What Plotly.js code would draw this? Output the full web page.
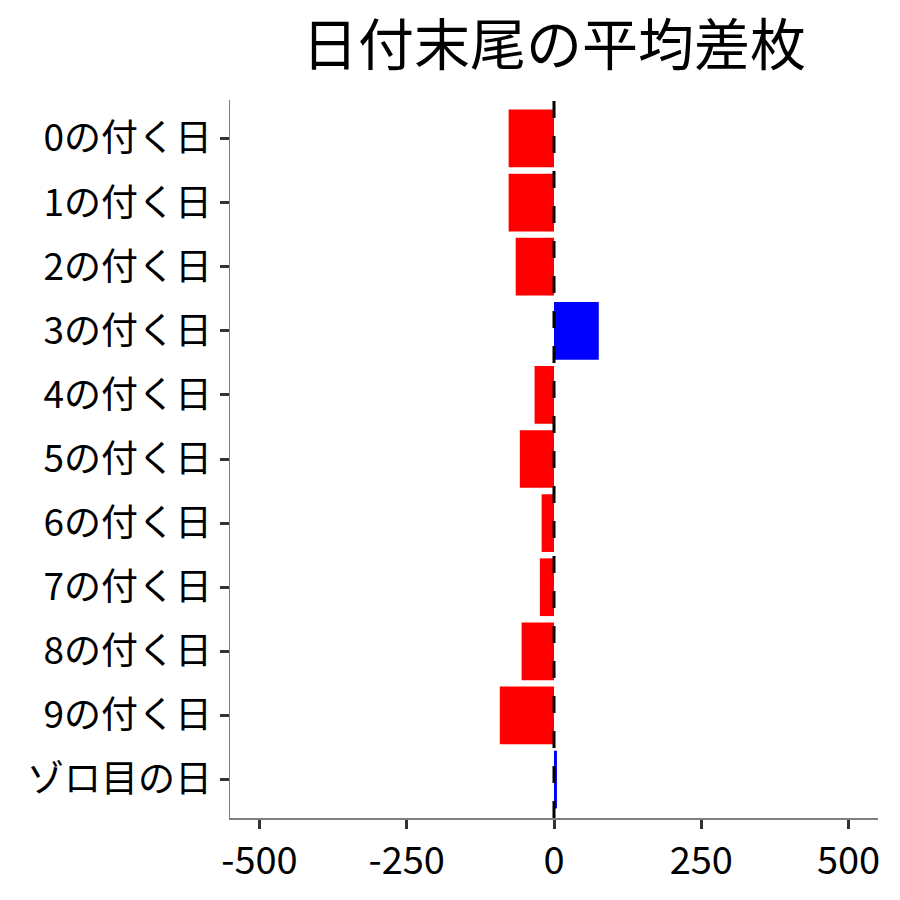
<!DOCTYPE html>
<html>
<head>
<meta charset="utf-8">
<script src="https://cdn.plot.ly/plotly-3.0.1.min.js"></script>
<style>
  html, body { margin: 0; padding: 0; background: #fff; }
  #myDiv { width: 900px; height: 900px; }
</style>
</head>
<body>
<div id="myDiv"></div>
<script>
// ======== DATA ========
var days = ['0の付く日', '1の付く日', '2の付く日', '3の付く日', '4の付く日',
            '5の付く日', '6の付く日', '7の付く日', '8の付く日', '9の付く日', 'ゾロ目の日'];
var avgDiff = [-77, -77, -65, 76, -33, -58, -21, -24, -55, -92, 5];
var xTicks = [-500, -250, 0, 250, 500];

var barColors = avgDiff.map(v => v >= 0 ? '#0000FF' : '#FF0000');

var font = 'Noto Sans CJK JP, sans-serif';

var trace = {
  type: 'bar',
  orientation: 'h',
  x: avgDiff,
  y: days,
  marker: {color: barColors, line: {width: 0}},
  hoverinfo: 'x+y'
};

var layout = {
  width: 900,
  height: 900,
  margin: {l: 230, r: 22, t: 100, b: 82, pad: 0},
  paper_bgcolor: '#ffffff',
  plot_bgcolor: '#ffffff',
  showlegend: false,
  bargap: 0.1,
  font: {family: font, color: '#000000'},
  title: {
    text: '日付末尾の平均差枚',
    font: {family: font, size: 56, color: '#000000'},
    x: 0.5, xref: 'paper', xanchor: 'center',
    y: 0.95, yref: 'container', yanchor: 'middle'
  },
  xaxis: {
    range: [-550, 550],
    tickvals: xTicks,
    ticktext: xTicks.map(String),
    showgrid: false,
    zeroline: false,
    showline: true,
    linecolor: '#7f7f7f',
    linewidth: 1.5,
    ticks: 'outside',
    ticklen: 9,
    tickwidth: 3,
    tickcolor: '#333333',
    tickfont: {family: font, size: 38, color: '#000000'}
  },
  yaxis: {
    type: 'category',
    categoryorder: 'array',
    categoryarray: days,
    range: [days.length - 0.4, -0.6],
    showgrid: false,
    zeroline: false,
    showline: true,
    linecolor: '#7f7f7f',
    linewidth: 1.5,
    ticks: 'outside',
    ticklen: 9,
    tickwidth: 3,
    tickcolor: '#333333',
    tickfont: {family: font, size: 37, color: '#000000'}
  },
  shapes: [{
    type: 'line',
    xref: 'x', yref: 'paper',
    x0: 0, x1: 0, y0: 0, y1: 1,
    line: {color: '#000000', width: 3, dash: '17px,18px'},
    layer: 'above'
  }]
};

var config = {staticPlot: true, displayModeBar: false};

Plotly.newPlot('myDiv', [trace], layout, config);
</script>
</body>
</html>
